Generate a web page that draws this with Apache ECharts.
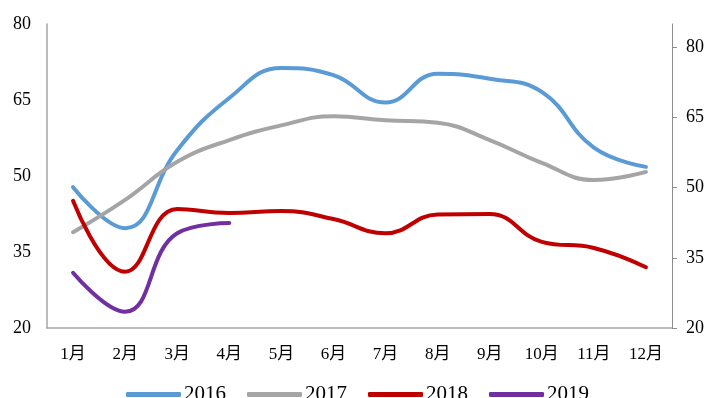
<!DOCTYPE html>
<html>
<head>
<meta charset="utf-8">
<script src="https://cdn.jsdelivr.net/npm/echarts@6/dist/echarts.min.js"></script>
<style>
  html, body { margin: 0; padding: 0; background: #fff; }
  #chart { width: 708px; height: 398px; }
</style>
</head>
<body>
<div id="chart"></div>
<script>
// Monthly values by year
const months = ['1月', '2月', '3月', '4月', '5月', '6月', '7月', '8月', '9月', '10月', '11月', '12月'];
const years = ['2016', '2017', '2018', '2019'];
const values2016 = [47.8, 39.7, 55.1, 65.4, 71.3, 69.9, 64.5, 70.2, 69.2, 66.6, 55.6, 51.8];
const values2017 = [38.9, 45.3, 52.8, 57.1, 60.0, 61.8, 61.0, 60.5, 57.1, 52.6, 49.2, 50.8];
const values2018 = [45.1, 31.1, 43.5, 42.7, 43.1, 41.5, 38.7, 42.4, 42.5, 37.0, 35.8, 32.0];
const values2019 = [30.9, 23.2, 38.7, 40.7];
const leftTicks = [20, 35, 50, 65, 80];
const rightTicks = [20, 35, 50, 65, 80];

const colors = ['#5B9BD5', '#A5A5A5', '#C00000', '#7030A0'];
const seriesValues = [values2016, values2017, values2018, values2019];
const fontFamily = '"Liberation Serif", "Noto Sans CJK SC", serif';

const chart = echarts.init(document.getElementById('chart'));
chart.setOption({
  animation: false,
  color: colors,
  grid: { left: 47, right: 36, top: 24, bottom: 70 },
  legend: {
    top: 384,
    left: 126,
    padding: 0,
    itemWidth: 55,
    itemHeight: 5,
    itemGap: 21,
    icon: 'roundRect',
    textStyle: { fontFamily: fontFamily, fontSize: 21, color: '#000', padding: [0, 0, 0, -2] },
    data: years
  },
  xAxis: {
    type: 'category',
    data: months,
    boundaryGap: true,
    axisLine: { lineStyle: { color: '#A6A6A6', width: 1.5 } },
    axisTick: { show: false },
    axisLabel: { margin: 18, fontFamily: fontFamily, fontSize: 17, color: '#000' }
  },
  yAxis: [
    {
      type: 'value',
      min: 20,
      max: 80,
      position: 'left',
      splitLine: { show: false },
      axisLine: { show: true, lineStyle: { color: '#A6A6A6', width: 1.5 } },
      axisTick: { show: false },
      axisLabel: {
        customValues: leftTicks,
        margin: 16,
        fontFamily: fontFamily, fontSize: 18, color: '#000'
      }
    },
    {
      type: 'value',
      min: 20,
      max: 85,
      position: 'right',
      splitLine: { show: false },
      axisLine: { show: true, lineStyle: { color: '#8C8C8C', width: 1 } },
      axisTick: { show: true, customValues: rightTicks, length: 5, lineStyle: { color: '#8C8C8C' } },
      axisLabel: {
        customValues: rightTicks,
        margin: 14,
        fontFamily: fontFamily, fontSize: 18, color: '#000'
      }
    }
  ],
  series: years.map((name, i) => ({
    name: name,
    type: 'line',
    yAxisIndex: 0,
    data: seriesValues[i],
    smooth: 0.45,
    symbol: 'none',
    lineStyle: { width: 4, color: colors[i], cap: 'round' },
    itemStyle: { color: colors[i] }
  }))
});
</script>
</body>
</html>
